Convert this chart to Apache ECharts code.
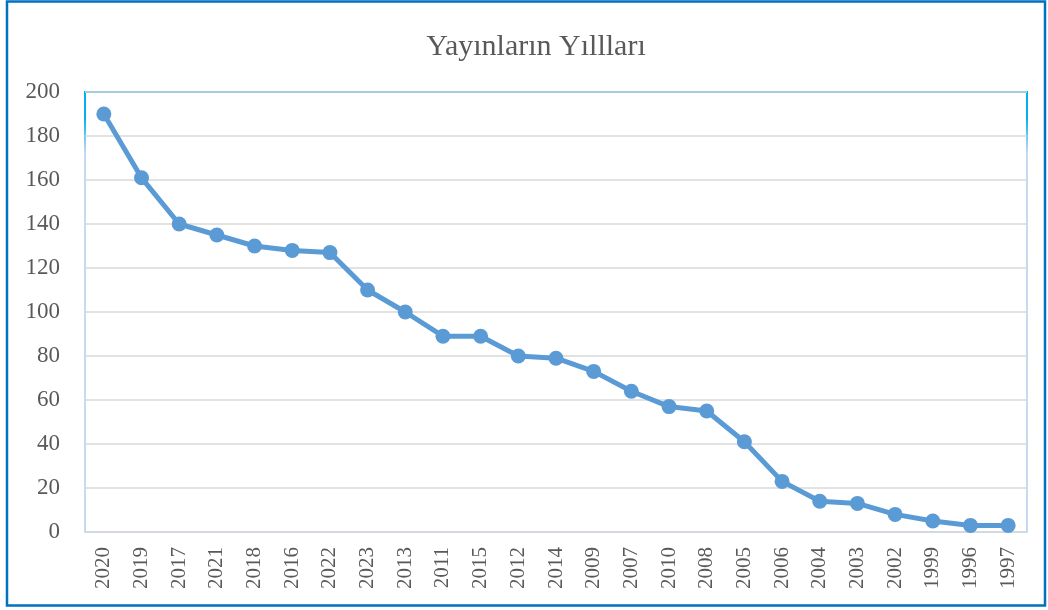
<!DOCTYPE html>
<html>
<head>
<meta charset="utf-8">
<script src="https://cdn.jsdelivr.net/npm/echarts@6/dist/echarts.min.js"></script>
<style>
  html, body { margin: 0; padding: 0; background: #fff; }
  #chart { width: 1048px; height: 610px; }
</style>
</head>
<body>
<div id="chart"></div>
<script>
  // years as shown, sorted by count
  var years = ['2020', '2019', '2017', '2021', '2018', '2016', '2022', '2023', '2013', '2011',
    '2015', '2012', '2014', '2009', '2007', '2010', '2008', '2005', '2006', '2004',
    '2003', '2002', '1999', '1996', '1997'];
  var counts = [190, 161, 140, 135, 130, 128, 127, 110, 100, 89,
    89, 80, 79, 73, 64, 57, 55, 41, 23, 14,
    13, 8, 5, 3, 3];
  var yTicks = { min: 0, max: 200, step: 20 };

  var font = '"Liberation Serif", "DejaVu Serif", serif';
  var chart = echarts.init(document.getElementById('chart'));
  chart.setOption({
    animation: false,
    title: {
      text: 'Yayınların Yıllları',
      left: 531,
      textAlign: 'center',
      top: 27,
      textStyle: { fontFamily: font, fontSize: 30, fontWeight: 'normal', color: '#595959' }
    },
    graphic: [{
      type: 'rect',
      shape: { x: 7, y: 1.5, width: 1038, height: 604 },
      style: { fill: 'none', stroke: '#0070c0', lineWidth: 2.5 },
      z: 100
    }],
    grid: {
      left: 85, right: 21, top: 92, bottom: 78,
      show: true,
      borderWidth: 2,
      borderColor: new echarts.graphic.LinearGradient(0, 0, 0, 1, [
        { offset: 0, color: '#00b0f0' },
        { offset: 0.06, color: '#00b0f0' },
        { offset: 0.14, color: '#c6d9f1' },
        { offset: 1, color: '#c6d9f1' }
      ])
    },
    xAxis: {
      type: 'category',
      data: years,
      boundaryGap: true,
      axisLine: { show: false },
      axisTick: { show: false },
      axisLabel: {
        rotate: 90, margin: 15, interval: 0,
        fontFamily: font, fontSize: 21, color: '#595959'
      }
    },
    yAxis: {
      type: 'value',
      min: yTicks.min, max: yTicks.max, interval: yTicks.step,
      axisLine: { show: false },
      axisTick: { show: false },
      splitLine: { lineStyle: { color: '#d9d9d9', width: 1.5 } },
      axisLabel: { margin: 25, fontFamily: font, fontSize: 23, color: '#595959' }
    },
    series: [{
      type: 'line',
      data: counts,
      symbol: 'circle',
      symbolSize: 15,
      lineStyle: { color: '#5b9bd5', width: 5 },
      itemStyle: { color: '#5b9bd5' }
    }]
  });
</script>
</body>
</html>
